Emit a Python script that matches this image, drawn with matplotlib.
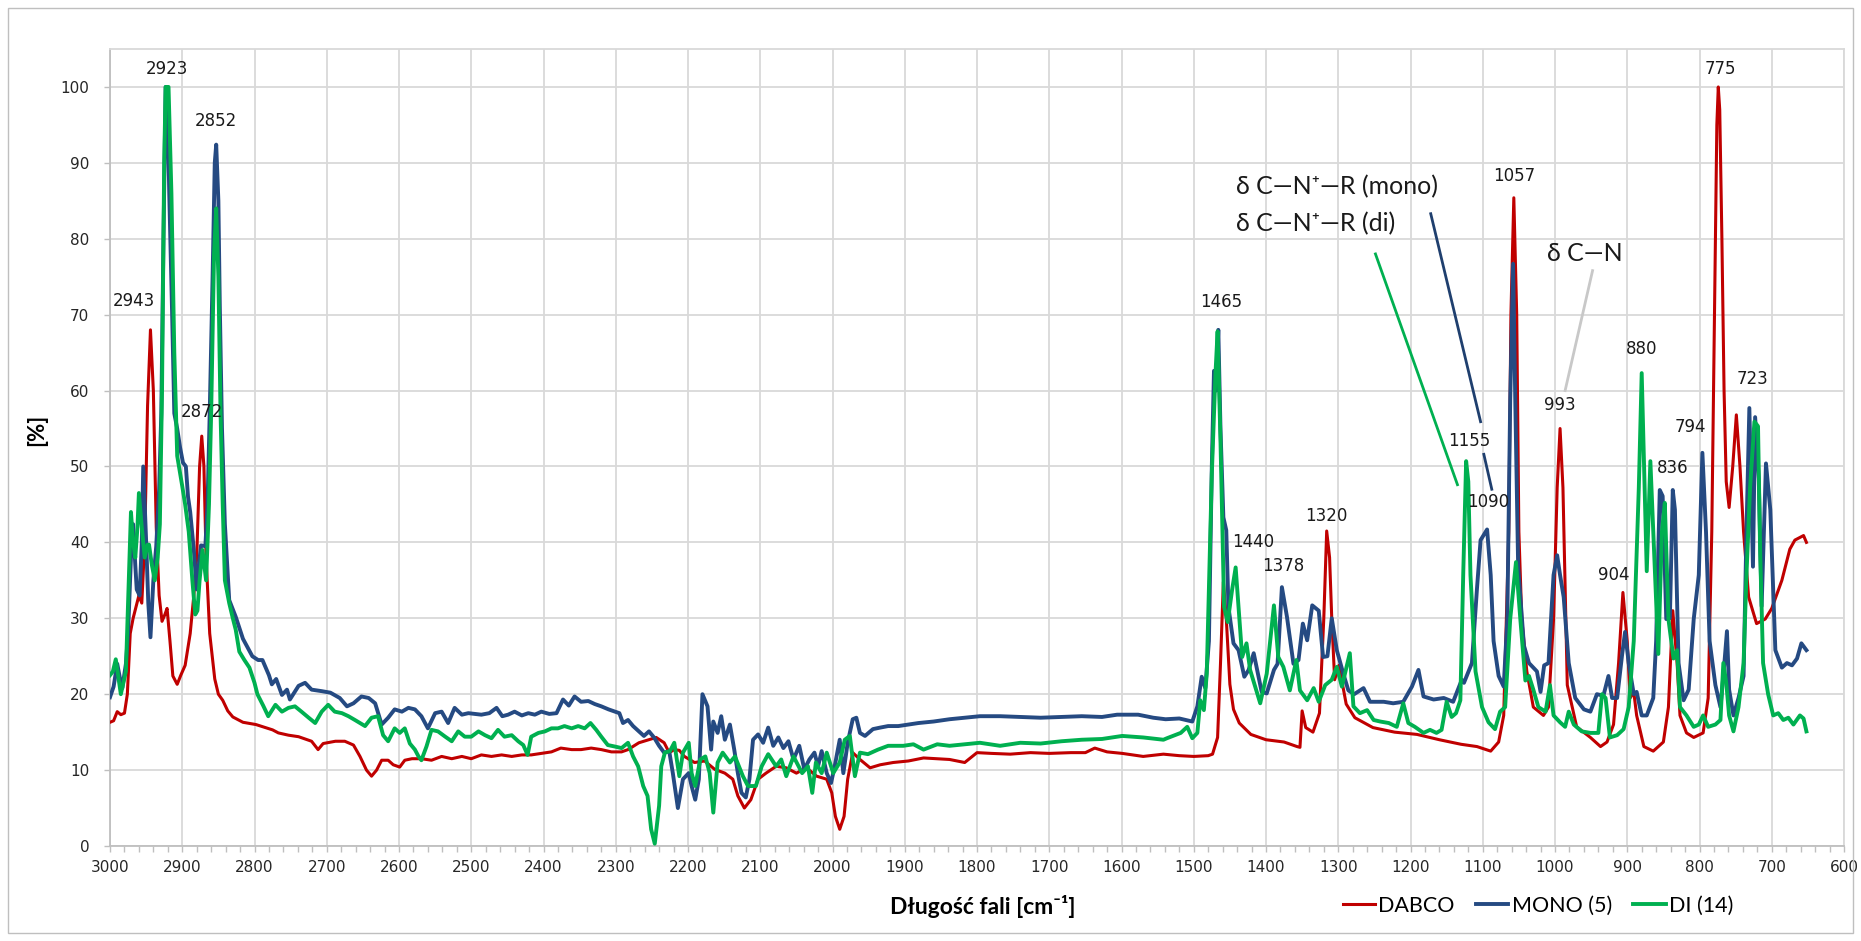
import matplotlib
matplotlib.use("Agg")
import matplotlib.pyplot as plt
from matplotlib.patches import Rectangle
from matplotlib.ticker import MultipleLocator

# ---------------- data (wavenumber cm-1, value %) ----------------
DABCO_X = [3000, 2995, 2990, 2985, 2980, 2976, 2972, 2968, 2960, 2956, 2952, 2948, 2944, 2940, 2936, 2932, 2928, 2924, 2921, 2917, 2913, 2907, 2902, 2896, 2889, 2884, 2880, 2876, 2873, 2870, 2867, 2862, 2855, 2850, 2844, 2837, 2830, 2816, 2798, 2775, 2767, 2753, 2739, 2721, 2712, 2705, 2688, 2675, 2663, 2654, 2645, 2638, 2631, 2624, 2615, 2608, 2599, 2592, 2582, 2569, 2555, 2541, 2527, 2513, 2500, 2486, 2472, 2458, 2444, 2430, 2417, 2403, 2389, 2376, 2361, 2348, 2334, 2320, 2306, 2292, 2283, 2268, 2254, 2244, 2233, 2226, 2219, 2212, 2205, 2191, 2177, 2163, 2149, 2138, 2131, 2122, 2113, 2103, 2092, 2078, 2064, 2050, 2036, 2022, 2008, 2001, 1996, 1990, 1984, 1979, 1972, 1962, 1948, 1934, 1916, 1895, 1874, 1855, 1838, 1817, 1800, 1780, 1754, 1726, 1700, 1670, 1650, 1637, 1620, 1599, 1570, 1542, 1520, 1500, 1480, 1474, 1467, 1463, 1459, 1455, 1450, 1445, 1437, 1421, 1400, 1375, 1357, 1353, 1350, 1345, 1335, 1326, 1320, 1316, 1312, 1309, 1305, 1299, 1289, 1277, 1252, 1222, 1191, 1160, 1130, 1108, 1089, 1078, 1071, 1064, 1061, 1057, 1053, 1050, 1046, 1039, 1030, 1016, 1009, 1002, 997, 993, 989, 983, 970, 951, 937, 928, 919, 912, 906, 900, 896, 891, 887, 877, 864, 850, 843, 837, 831, 827, 818, 808, 795, 788, 783, 779, 776, 774, 772, 769, 766, 763, 759, 754, 749, 744, 739, 732, 721, 709, 700, 686, 675, 668, 656, 652]
DABCO_Y = [16.3, 16.5, 17.7, 17.3, 17.5, 20, 28, 30, 33, 32, 40, 58, 68, 60, 42, 33, 29.6, 30.5, 31.3, 27, 22.4, 21.3, 22.5, 23.8, 28, 33, 38, 50, 54, 50, 38, 28, 22, 20, 19.2, 17.8, 17, 16.3, 16, 15.3, 14.9, 14.6, 14.4, 13.8, 12.7, 13.5, 13.8, 13.8, 13.3, 11.8, 10, 9.2, 10, 11.3, 11.3, 10.7, 10.4, 11.3, 11.5, 11.5, 11.3, 11.8, 11.5, 11.8, 11.5, 12, 11.8, 12, 11.8, 12, 12, 12.2, 12.4, 12.9, 12.7, 12.7, 12.9, 12.7, 12.4, 12.4, 12.7, 13.6, 14, 14.3, 13.6, 12.3, 12.7, 12.6, 11.8, 11, 11.2, 10.1, 9.6, 8.8, 6.6, 5, 6.1, 8.8, 9.6, 10.5, 10.3, 9.6, 10.3, 9.2, 8.8, 7, 3.9, 2.2, 3.9, 8.8, 12.3, 11.4, 10.3, 10.7, 11, 11.2, 11.6, 11.5, 11.4, 11, 12.3, 12.2, 12.1, 12.3, 12.2, 12.3, 12.3, 12.9, 12.4, 12.2, 11.8, 12.1, 11.9, 11.8, 11.9, 12.1, 14.3, 24, 34.8, 30, 21.3, 18, 16.2, 14.7, 14, 13.7, 13.1, 13, 17.8, 15.6, 15, 17.5, 30, 41.5, 38, 30, 21.9, 23.8, 18.7, 16.9, 15.6, 15, 14.7, 14, 13.4, 13.1, 12.5, 13.7, 17.2, 41.4, 70, 85.4, 70, 41.4, 29.9, 23, 18.3, 17.2, 18.3, 29.9, 47.2, 55, 47.2, 21.2, 15.7, 14.3, 13.1, 13.7, 16, 24.1, 33.4, 27, 19.5, 20.3, 17.2, 13.1, 12.5, 13.7, 18.3, 31, 24.1, 17.2, 14.9, 14.3, 14.9, 19.5, 41.4, 72, 95, 100, 97, 80, 60, 48, 44.6, 50, 56.8, 50, 41.4, 32.8, 29.3, 29.9, 31.3, 35, 39.1, 40.3, 40.9, 40]

MONO_X = [3000, 2995, 2990, 2985, 2983, 2978, 2975, 2971, 2968, 2965, 2963, 2959, 2956, 2954, 2950, 2947, 2944, 2940, 2936, 2932, 2929, 2926, 2923, 2921, 2918, 2914, 2911, 2907, 2903, 2899, 2895, 2892, 2889, 2884, 2880, 2877, 2874, 2868, 2865, 2862, 2858, 2855, 2853, 2850, 2848, 2845, 2841, 2835, 2826, 2816, 2803, 2795, 2789, 2780, 2776, 2770, 2762, 2755, 2751, 2739, 2730, 2721, 2707, 2695, 2682, 2672, 2663, 2652, 2642, 2633, 2624, 2615, 2606, 2596, 2587, 2578, 2569, 2560, 2550, 2541, 2532, 2523, 2513, 2504, 2495, 2486, 2475, 2465, 2457, 2449, 2440, 2430, 2421, 2412, 2403, 2392, 2382, 2373, 2365, 2357, 2348, 2338, 2329, 2320, 2310, 2301, 2295, 2290, 2283, 2276, 2268, 2261, 2254, 2247, 2240, 2233, 2226, 2221, 2214, 2207, 2199, 2195, 2190, 2185, 2180, 2173, 2168, 2165, 2159, 2154, 2149, 2142, 2136, 2131, 2126, 2120, 2115, 2110, 2103, 2096, 2089, 2082, 2075, 2068, 2061, 2054, 2046, 2039, 2032, 2025, 2020, 2015, 2008, 2002, 1997, 1990, 1985, 1979, 1972, 1967, 1962, 1955, 1944, 1934, 1923, 1909, 1895, 1881, 1860, 1838, 1817, 1796, 1768, 1740, 1712, 1683, 1655, 1627, 1606, 1577, 1556, 1539, 1520, 1502, 1495, 1489, 1484, 1479, 1475, 1472, 1469, 1466, 1463, 1459, 1455, 1452, 1445, 1438, 1430, 1424, 1417, 1406, 1399, 1389, 1384, 1378, 1371, 1362, 1355, 1349, 1343, 1336, 1327, 1321, 1315, 1309, 1302, 1293, 1286, 1278, 1265, 1256, 1237, 1224, 1210, 1198, 1189, 1182, 1168, 1154, 1141, 1129, 1126, 1115, 1108, 1103, 1094, 1089, 1085, 1078, 1071, 1066, 1062, 1058, 1055, 1051, 1043, 1036, 1030, 1025, 1020, 1015, 1009, 1002, 997, 993, 988, 981, 972, 960, 951, 942, 933, 926, 921, 914, 907, 903, 898, 891, 887, 880, 873, 864, 860, 855, 851, 846, 841, 837, 834, 829, 822, 815, 808, 801, 796, 791, 786, 778, 771, 767, 762, 759, 753, 746, 739, 735, 731, 726, 723, 718, 714, 708, 702, 695, 686, 679, 672, 665, 659, 652]
MONO_Y = [19.6, 21, 24, 21.5, 20.8, 24, 28, 38, 42.4, 37, 33.8, 33, 40, 50, 40.2, 32, 27.5, 35, 39.5, 47, 57, 80, 100, 100, 86, 70, 57, 55, 52.5, 50.5, 50, 46, 44, 39, 33.8, 37, 39.6, 39.5, 45, 57, 75, 90, 92.4, 85, 71, 55, 42.4, 32.4, 30.2, 27.3, 25, 24.5, 24.5, 22.5, 21.3, 22, 19.9, 20.6, 19.3, 21.1, 21.5, 20.6, 20.4, 20.2, 19.5, 18.4, 18.8, 19.7, 19.5, 18.8, 16, 16.9, 18, 17.7, 18.2, 18, 17.1, 15.5, 17.5, 17.7, 16.2, 18.2, 17.3, 17.5, 17.4, 17.3, 17.5, 18.2, 17.1, 17.3, 17.7, 17.2, 17.5, 17.3, 17.7, 17.4, 17.5, 19.3, 18.5, 19.7, 19, 19.1, 18.7, 18.4, 18, 17.7, 17.5, 16.2, 16.6, 15.8, 15.1, 14.5, 15.1, 14.3, 13.2, 12.3, 12.5, 9.6, 5, 8.8, 9.6, 7.9, 6.1, 8.8, 20, 18.4, 12.7, 16.4, 14.9, 17.1, 14, 16, 12.7, 9.6, 7, 6.4, 8.8, 14, 14.7, 13.6, 15.6, 13.2, 14.3, 12.9, 13.8, 11.4, 13.2, 10.1, 11.4, 12.3, 10.5, 12.5, 9.6, 8.3, 10.5, 14, 9.6, 13.6, 16.7, 16.9, 14.9, 14.5, 15.4, 15.6, 15.8, 15.8, 16, 16.2, 16.4, 16.7, 16.9, 17.1, 17.1, 17, 16.9, 17, 17.1, 17, 17.3, 17.3, 16.9, 16.7, 16.8, 16.4, 18.4, 22.3, 20.8, 27, 50, 62.6, 60, 68, 55, 43.3, 41.6, 31.5, 26.7, 25.8, 22.3, 23.2, 25.4, 20.3, 20.1, 23.2, 24, 34.1, 30.2, 24, 24.5, 29.3, 27.1, 31.7, 31, 24.9, 25, 30, 25.8, 22.7, 20.5, 20, 20.8, 19, 19, 18.8, 19, 21, 23.2, 19.7, 19.3, 19.5, 19, 21.9, 21.5, 24.1, 33.9, 40.3, 41.7, 35.7, 27, 22.4, 21, 29.9, 58.8, 76.7, 58.8, 36.8, 26.4, 24.1, 23.5, 23, 20.3, 23.8, 24.1, 35.7, 38.3, 35.7, 32.8, 24.1, 19.5, 18, 17.7, 20, 19.8, 22.4, 19.5, 19.5, 25.3, 28.2, 24.1, 20, 20.3, 17.2, 17.2, 19.5, 27, 46.9, 46.1, 29.9, 30, 46.9, 44.3, 24.1, 19.2, 20.6, 29.9, 35.7, 51.8, 41.4, 27, 21.2, 18.3, 22.4, 28.3, 20.6, 17.2, 19.5, 22.4, 41.4, 57.7, 36.8, 56.5, 48.4, 31.6, 50.4, 44.3, 25.8, 23.5, 24.1, 23.8, 24.7, 26.7, 25.8]

DI_X = [3000, 2996, 2992, 2988, 2985, 2978, 2975, 2971, 2968, 2965, 2962, 2960, 2956, 2952, 2948, 2946, 2942, 2938, 2934, 2931, 2928, 2925, 2923, 2919, 2915, 2911, 2907, 2900, 2896, 2891, 2886, 2882, 2879, 2876, 2872, 2867, 2863, 2860, 2856, 2853, 2850, 2847, 2844, 2841, 2835, 2830, 2826, 2821, 2814, 2807, 2800, 2796, 2788, 2781, 2771, 2762, 2753, 2744, 2735, 2725, 2716, 2707, 2698, 2689, 2679, 2670, 2661, 2647, 2638, 2629, 2622, 2615, 2606, 2599, 2592, 2585, 2578, 2573, 2569, 2562, 2555, 2546, 2536, 2527, 2518, 2509, 2500, 2490, 2481, 2472, 2463, 2454, 2444, 2435, 2428, 2422, 2417, 2407, 2398, 2389, 2380, 2371, 2361, 2352, 2343, 2335, 2327, 2320, 2311, 2301, 2292, 2283, 2276, 2269, 2262, 2256, 2251, 2246, 2240, 2237, 2232, 2225, 2219, 2212, 2207, 2199, 2195, 2190, 2183, 2176, 2170, 2165, 2159, 2152, 2142, 2135, 2124, 2117, 2106, 2098, 2089, 2078, 2071, 2064, 2054, 2042, 2034, 2028, 2023, 2015, 2008, 1999, 1990, 1983, 1976, 1969, 1962, 1951, 1937, 1923, 1902, 1888, 1874, 1855, 1838, 1817, 1796, 1768, 1740, 1712, 1683, 1655, 1627, 1599, 1570, 1542, 1537, 1518, 1509, 1502, 1495, 1491, 1486, 1482, 1475, 1470, 1467, 1463, 1458, 1453, 1447, 1442, 1438, 1433, 1427, 1422, 1415, 1408, 1399, 1389, 1383, 1376, 1367, 1358, 1353, 1343, 1334, 1327, 1318, 1309, 1302, 1295, 1284, 1279, 1270, 1260, 1251, 1242, 1230, 1219, 1210, 1203, 1194, 1182, 1173, 1164, 1157, 1150, 1143, 1137, 1131, 1127, 1123, 1120, 1117, 1110, 1101, 1092, 1083, 1076, 1069, 1062, 1054, 1048, 1041, 1036, 1030, 1023, 1013, 1007, 1002, 993, 986, 981, 974, 963, 951, 940, 935, 930, 924, 914, 905, 898, 891, 884, 880, 876, 873, 868, 864, 857, 852, 848, 843, 836, 831, 827, 818, 808, 801, 795, 788, 778, 771, 767, 763, 759, 753, 746, 739, 735, 730, 724, 719, 716, 712, 705, 698, 691, 684, 677, 670, 661, 656, 652]
DI_Y = [22.5, 23, 24.6, 22, 20, 23, 32, 44, 40, 38, 42, 46.5, 42, 38, 39.7, 39.7, 37, 35, 38, 42.4, 60, 90, 100, 100, 86, 65, 51.4, 47.4, 45, 41.4, 35, 30.5, 31, 35, 39, 35, 45, 57, 78, 84, 75, 57, 45, 35, 32, 30, 28.5, 25.6, 24.5, 23.5, 21.5, 20, 18.5, 17.1, 18.6, 17.7, 18.2, 18.4, 17.7, 16.9, 16.2, 17.7, 18.6, 17.7, 17.5, 17.1, 16.6, 15.8, 16.9, 17.1, 14.6, 13.8, 15.5, 14.9, 15.5, 13.5, 12.7, 11.8, 11.3, 13.1, 15.3, 15.1, 14.4, 13.8, 15.1, 14.4, 14.4, 15.1, 14.6, 14.2, 15.3, 14.4, 14.6, 13.8, 13.3, 12, 14.4, 14.9, 15.1, 15.5, 15.5, 15.8, 15.5, 15.8, 15.5, 16.2, 15.3, 14.4, 13.3, 13.1, 12.9, 13.6, 11.8, 10.5, 7.9, 6.6, 2.2, 0.3, 5.3, 10.5, 12.3, 12.5, 13.6, 9.2, 12.3, 13.6, 9.6, 7.9, 11.4, 11.8, 9.6, 4.4, 11, 12.3, 11, 11.8, 9.2, 7.9, 7.9, 10.5, 12.1, 10.5, 11.4, 9.2, 11.8, 9.6, 10.5, 7, 11, 9.6, 12.3, 9.6, 11, 14, 14.5, 9.2, 12.3, 12.1, 12.7, 13.2, 13.2, 13.4, 12.7, 13.4, 13.2, 13.4, 13.6, 13.2, 13.6, 13.5, 13.8, 14, 14.1, 14.5, 14.3, 14, 14.2, 14.9, 15.7, 14.2, 14.9, 19.2, 17.9, 22.7, 49, 62.1, 67.8, 53.4, 31.5, 29.5, 33.7, 36.7, 31.5, 24.9, 26.7, 23.2, 21, 18.8, 22.7, 31.7, 24.9, 23.6, 20.5, 24.5, 20.5, 19.2, 20.8, 19, 21.2, 21.9, 23.6, 21, 25.4, 18.4, 17.5, 17.9, 16.6, 16.4, 16.2, 15.7, 18.8, 16.2, 15.7, 14.9, 15.3, 14.9, 15.3, 19, 17, 17.5, 19.2, 35.9, 50.7, 48, 35.7, 23, 18.3, 16.3, 15.4, 17.7, 18.3, 29.9, 37.4, 29.9, 21.8, 22.4, 20.6, 18.3, 17.7, 21.2, 17.2, 16.3, 15.7, 17.7, 16, 15.1, 14.9, 14.9, 20, 19.5, 14.3, 14.6, 15.4, 18.3, 27, 47.2, 62.3, 47.2, 36.2, 50.7, 41.4, 25.3, 41.4, 45.2, 29.9, 24.7, 25.8, 18.3, 17.2, 15.7, 16, 17.2, 15.7, 16, 16.6, 24.1, 21.5, 17.2, 15.1, 18.3, 24.1, 35.7, 47.2, 55.9, 55.3, 38.6, 24.1, 20, 17.2, 17.5, 16.6, 16.9, 16, 17.2, 16.8, 15.1]

SERIES_NAMES = ["DABCO", "MONO (5)", "DI (14)"]

# peak labels: text, wavenumber, value
PEAK_LABELS = ["2923", "2852", "2943", "2872", "1465", "1440", "1378", "1320", "1155",
               "1090", "1057", "993", "904", "880", "836", "794", "723", "775"]
PEAK_W = [2921, 2853, 2967, 2873, 1462, 1418, 1376, 1317, 1119, 1092, 1057, 994, 918, 880, 837, 813, 726, 771]
PEAK_V = [102.3, 95.5, 71.8, 57.2, 71.7, 40.0, 36.9, 43.5, 53.4, 45.3, 88.3, 58.1, 35.7, 65.5, 49.8, 55.2, 61.5, 102.3]

X_TICKS = list(range(3000, 599, -100))
Y_TICKS = list(range(0, 101, 10))

# ---------------- figure ----------------
W, H = 1861, 941
fig = plt.figure(figsize=(W / 100, H / 100), dpi=100)
fig.patch.set_facecolor("white")
fig.patches.append(Rectangle((8 / W, 8 / H), (W - 16) / W, (H - 16) / H, transform=fig.transFigure,
                             fill=False, edgecolor="#BFBFBF", linewidth=1.0))

L, R, B, T = 110, 1844, 846, 49
ax = fig.add_axes([L / W, 1 - B / H, (R - L) / W, (B - T) / H])

COLORS = ["#C00000", "#254A82", "#00B050"]
LWS = [2.2, 2.8, 2.8]
lines = []
for xs, ys, c, lw, nm in zip([DABCO_X, MONO_X, DI_X], [DABCO_Y, MONO_Y, DI_Y], COLORS, LWS, SERIES_NAMES):
    ln, = ax.plot(xs, ys, color=c, lw=lw, label=nm, solid_joinstyle="round", zorder=3)
    lines.append(ln)

ax.set_xlim(3000, 600)
ax.set_ylim(0, 105)
ax.set_xticks(X_TICKS)
ax.xaxis.set_minor_locator(MultipleLocator(20))
ax.set_yticks(Y_TICKS)
ax.grid(True, which="major", color="#D9D9D9", lw=1.3, zorder=0)
ax.set_axisbelow(True)
for s in ax.spines.values():
    s.set_color("#D9D9D9")
    s.set_linewidth(1.3)
ax.spines["bottom"].set_color("#BFBFBF")
ax.spines["left"].set_color("#BFBFBF")

ax.tick_params(axis="x", which="major", length=4, width=1, color="#BFBFBF", pad=6,
               labelsize=11, labelcolor="#262626")
ax.tick_params(axis="x", which="minor", length=4, width=1, color="#BFBFBF")
ax.tick_params(axis="y", which="major", length=4, width=1, color="#BFBFBF", pad=11,
               labelsize=11, labelcolor="#262626")
for lab in ax.get_xticklabels() + ax.get_yticklabels():
    lab.set_family("DejaVu Sans")

# peak labels
for t, w, v in zip(PEAK_LABELS, PEAK_W, PEAK_V):
    ax.text(w, v, t, ha="center", va="center", fontsize=12, family="DejaVu Sans",
            color="#1a1a1a", zorder=5, clip_on=False)

CAL = ["Lato", "DejaVu Sans"]
# assignment annotations
ax.plot([1172, 1103], [83.3, 55.9], color="#1F3F6E", lw=2.0, zorder=4)
ax.plot([1098.5, 1087.5], [51.6, 47.0], color="#1F3F6E", lw=2.0, zorder=4)
ax.plot([1248.5, 1135], [78.0, 47.6], color="#00B050", lw=2.0, zorder=4)
ax.plot([948, 986], [75.8, 60.0], color="#C8C8C8", lw=2.0, zorder=4)
ax.text(1441, 86.8, "δ C—N⁺—R (mono)", ha="left", va="center", fontsize=18, family=CAL, color="#1a1a1a")
ax.text(1441, 82.0, "δ C—N⁺—R (di)", ha="left", va="center", fontsize=18, family=CAL, color="#1a1a1a")
ax.text(1011, 78.1, "δ C—N", ha="left", va="center", fontsize=18, family=CAL, color="#1a1a1a")

# axis titles
fig.text(983 / W, 1 - 906 / H, "Długość fali [cm⁻¹]", ha="center", va="center",
         fontsize=16.5, fontweight="bold", family=CAL, color="#000000")
fig.text(37 / W, 1 - 430 / H, "[%]", ha="center", va="center", rotation=90,
         fontsize=16, fontweight="bold", family=CAL, color="#000000")

leg = fig.legend(handles=lines, labels=SERIES_NAMES, loc="center", bbox_to_anchor=(1538 / W, 1 - 906 / H),
                 ncol=3, frameon=False, handlelength=1.5, handletextpad=0.15, columnspacing=1.0,
                 prop={"family": CAL, "size": 15.5})

fig.savefig("out.png", dpi=100, facecolor="white")
